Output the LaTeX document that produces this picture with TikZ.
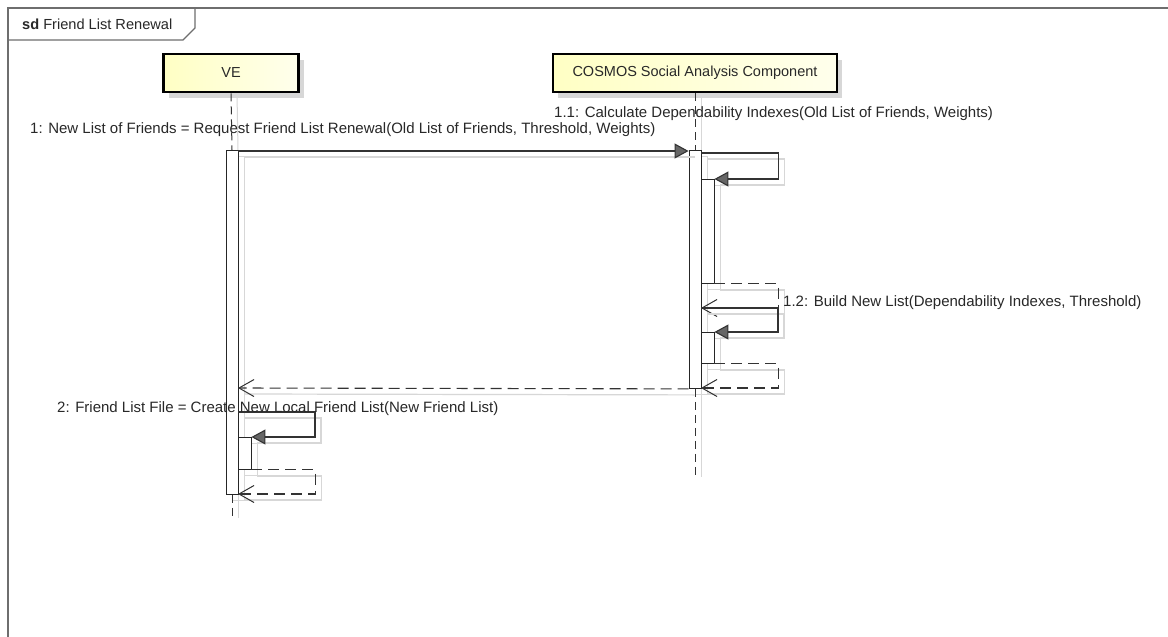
\documentclass[tikz,border=0pt]{standalone}
\usepackage{fontspec}
\setmainfont{Liberation Sans}
\usetikzlibrary{arrows.meta}
\definecolor{boxl}{RGB}{255,255,196}
\definecolor{boxr}{RGB}{255,255,236}
\definecolor{frm}{RGB}{110,110,110}
\definecolor{txt}{RGB}{40,40,40}
\definecolor{shd}{RGB}{215,215,215}
\begin{document}
\begin{tikzpicture}[x=1pt,y=-1pt,
  lbl/.style={anchor=base west, inner sep=0pt, font=\fontsize{15}{17}\selectfont, text=txt},
  lifebox/.style={draw=black, line width=2.6pt, left color=boxl, right color=boxr,
     minimum height=38pt, inner sep=0pt, font=\fontsize{14.5}{17}\selectfont, text=txt,
     preaction={fill=shd, draw=none, transform canvas={xshift=5pt,yshift=-6pt}}},
  actbar/.style={draw=black!85, line width=0.9pt, fill=white, minimum width=12pt, inner sep=0pt, anchor=north,
     preaction={draw=shd, fill=none, line width=0.9pt, transform canvas={xshift=6pt,yshift=-6pt}}},
  lifeln/.style={draw=black!80, line width=1pt, dash pattern=on 8pt off 5pt,
     preaction={draw=shd, solid, line width=1pt, transform canvas={xshift=6pt}}},
  msg/.style={draw=black!80, line width=1.1pt, -{Triangle[length=14pt,width=15pt,fill=black!60]},
     preaction={draw=shd, solid, line width=1.2pt, -, transform canvas={xshift=6pt,yshift=-6pt}}},
  ret/.style={draw=black!80, line width=1.1pt, dash pattern=on 11pt off 6pt, -{Straight Barb[length=15pt,width=17pt,line width=1pt]},
     preaction={draw=shd, solid, line width=1.2pt, -, transform canvas={xshift=6pt,yshift=-6pt}}}
]
\useasboundingbox (0,0) rectangle (1168,637);
\fill[white] (0,0) rectangle (1168,637);

% frame
\draw[frm, line width=1.6pt] (8,650) -- (8,8) -- (1180,8);
\draw[frm, line width=1.2pt] (8,40) -- (183,40) -- (195,28) -- (195,8);
\node[lbl, font=\fontsize{14.6}{17}\selectfont] (title) at (22,29.5) {\textbf{sd} Friend List Renewal};

% lifeline heads
\node[lifebox, minimum width=135pt] (ve) at (231,73) {VE};
\node[lifebox, minimum width=284pt] (cos) at (695,73) {COSMOS Social Analysis Component};

% activation bars
\node[actbar, minimum height=344pt] (veact) at (232,150) {};
\node[actbar, minimum height=238pt] (cact) at (695,150) {};
\node[actbar, minimum height=104pt, minimum width=13pt] (c11) at (707.5,179) {};
\node[actbar, minimum height=31pt, minimum width=13pt] (c12) at (707.5,332) {};
\node[actbar, minimum height=32pt, minimum width=13pt] (ve2) at (244.5,437) {};

% lifelines
\coordinate (veend) at (232,518);
\coordinate (cosend) at (695,477);
\draw[lifeln] (ve.south) -- (veact.north);
\draw[lifeln] (veact.south) -- (veend);
\draw[lifeln] (cos.south) -- (cact.north);
\draw[lifeln] (cact.south) -- (cosend);

% named points on the activations
\coordinate (r11) at (701,308);
\coordinate (r12) at (701,388);
\coordinate (ver1) at (238,388);
\coordinate (s2) at (238,412);
\coordinate (r2) at (238,494);

% message 1
\draw[msg] ([yshift=-1pt]veact.north east) -- ([yshift=-1pt]cact.north west);
% 1.1
\draw[msg] ([yshift=-3pt]cact.north east) -- ++(77,0) |- (c11.north east);
\draw[ret] (c11.south east) -- ++(64,0) |- (r11);
% 1.2
\draw[msg] (r11) -- ++(77,0) |- (c12.north east);
\draw[ret] (c12.south east) -- ++(64,0) |- (r12);
% return of 1
\draw[ret] (cact.south west) -- (ver1);
% 2
\draw[msg] (s2) -- ++(77,0) |- (ve2.north east);
\draw[ret] (ve2.south east) -- ++(64,0) |- (r2);

% labels
\node[lbl] (l11) at (554,117) {1.1: Calculate Dependability Indexes(Old List of Friends, Weights)};
\node[lbl] (l1) at (30,133) {1: New List of Friends = Request Friend List Renewal(Old List of Friends, Threshold, Weights)};
\node[lbl] (l12) at (783,306) {1.2: Build New List(Dependability Indexes, Threshold)};
\node[lbl] (l2) at (57,412) {2: Friend List File = Create New Local Friend List(New Friend List)};
\end{tikzpicture}
\end{document}
